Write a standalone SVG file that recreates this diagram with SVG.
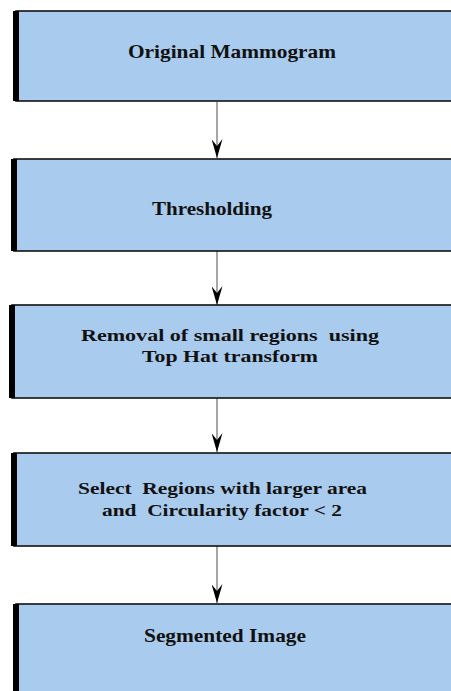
<svg xmlns="http://www.w3.org/2000/svg" width="451" height="691" viewBox="0 0 451 691">
<style>
.box{fill:#A9CBEE;stroke:#111;stroke-width:1.6}
.bar{fill:#000}
.t{font-family:"Liberation Serif","Times New Roman",serif;font-weight:bold;font-size:19px;fill:#111;text-anchor:start}
.s{font-size:17.5px}
.c{stroke:#777;stroke-width:1.3;fill:none}
</style>
<defs>
<marker id="ah" viewBox="0 0 19 11" refX="19" refY="5.5" markerWidth="19" markerHeight="11" markerUnits="userSpaceOnUse" orient="auto">
<path d="M0,0 L7,5.5 L0,11 L19,5.5 Z" fill="#000"/>
</marker>
</defs>
<rect width="451" height="691" fill="#fff"/>
<g id="connectors">
<line class="c" x1="217" y1="102" x2="217" y2="158" marker-end="url(#ah)"/>
<line class="c" x1="217" y1="251" x2="217" y2="305" marker-end="url(#ah)"/>
<line class="c" x1="217" y1="398" x2="217" y2="452" marker-end="url(#ah)"/>
<line class="c" x1="217" y1="546" x2="217" y2="603" marker-end="url(#ah)"/>
</g>
<g id="n1">
<rect class="box" x="16" y="11" width="450" height="90"/>
<rect class="bar" x="13" y="11" width="6" height="90"/>
<text class="t" x="128" y="58" textLength="208" lengthAdjust="spacingAndGlyphs">Original Mammogram</text>
</g>
<g id="n2">
<rect class="box" x="14" y="159" width="450" height="92"/>
<rect class="bar" x="11" y="159" width="6" height="92"/>
<text class="t" x="152" y="215" textLength="120" lengthAdjust="spacingAndGlyphs">Thresholding</text>
</g>
<g id="n3">
<rect class="box" x="12" y="305" width="450" height="93"/>
<rect class="bar" x="9" y="305" width="6" height="93"/>
<text class="t s" x="81" y="341" textLength="298" lengthAdjust="spacingAndGlyphs" xml:space="preserve">Removal of small regions  using</text>
<text class="t s" x="142" y="362" textLength="176" lengthAdjust="spacingAndGlyphs">Top Hat transform</text>
</g>
<g id="n4">
<rect class="box" x="14" y="453" width="450" height="93"/>
<rect class="bar" x="11" y="453" width="6" height="93"/>
<text class="t s" x="78" y="494" textLength="289" lengthAdjust="spacingAndGlyphs" xml:space="preserve">Select  Regions with larger area</text>
<text class="t s" x="102" y="516" textLength="240" lengthAdjust="spacingAndGlyphs" xml:space="preserve">and  Circularity factor &lt; 2</text>
</g>
<g id="n5">
<rect class="box" x="16" y="604" width="450" height="100"/>
<rect class="bar" x="13" y="604" width="6" height="100"/>
<text class="t" x="144" y="642" textLength="162" lengthAdjust="spacingAndGlyphs">Segmented Image</text>
</g>
</svg>
